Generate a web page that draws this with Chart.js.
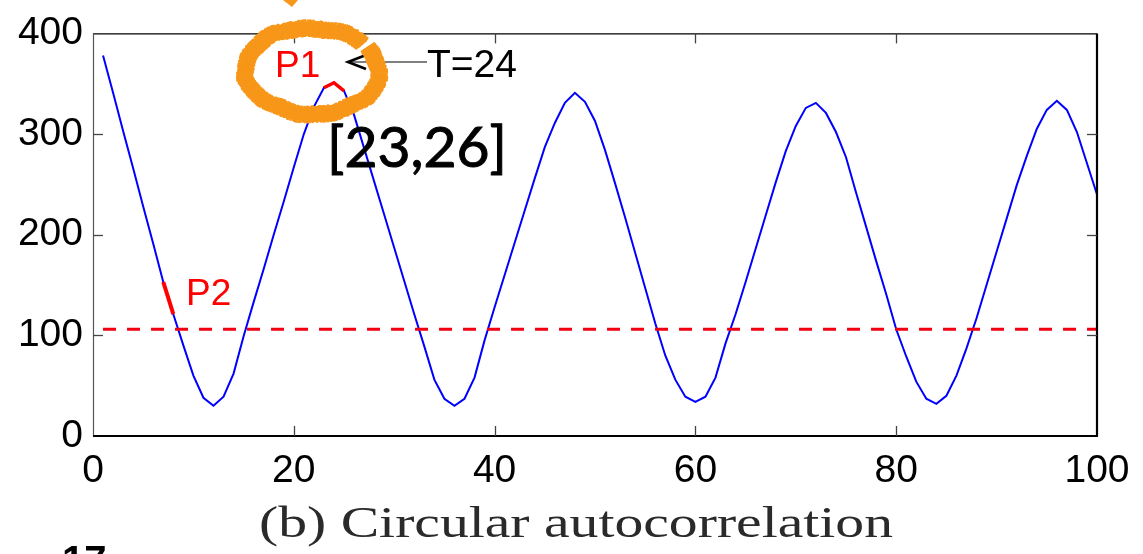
<!DOCTYPE html>
<html>
<head>
<meta charset="utf-8">
<script src="https://cdn.jsdelivr.net/npm/chart.js@4/dist/chart.umd.min.js"></script>
<style>
  body { margin: 0; background: #fff; }
  #wrap { width: 1143px; height: 554px; }
</style>
</head>
<body>
<div id="wrap"><canvas id="acf" width="1143" height="554"></canvas></div>
<script>
// lag (x) and circular autocorrelation value (y)
var lags = [1,2,3,4,5,6,7,8,9,10,11,12,13,14,15,16,17,18,19,20,
            21,22,23,24,25,26,27,28,29,30,31,32,33,34,35,36,37,38,39,40,
            41,42,43,44,45,46,47,48,49,50,51,52,53,54,55,56,57,58,59,60,
            61,62,63,64,65,66,67,68,69,70,71,72,73,74,75,76,77,78,79,80,
            81,82,83,84,85,86,87,88,89,90,91,92,93,94,95,96,97,98,99,100];
var acf = [378,341,303,266,228,191,153,121,90,60,38,30,39,62,99,133,166,200,233,267,
           300,327,346,351,343,319,286,253,220,187,154,121,89,56,37,30,37,58,95,128,
           160,192,224,256,287,311,331,341,332,313,284,251,217,182,147,112,80,56,39,34,
           39,58,92,121,153,186,219,252,283,308,326,331,321,302,277,242,208,174,141,106,
           79,54,37,32,40,60,87,117,150,183,216,249,278,305,324,333,324,302,271,240];

// highlighted stretches
var p1Lags = [23, 24, 25];
var p1Values = [346, 351, 343];
var p2Lags = [7, 8];
var p2Values = [153, 121];

// threshold line
var thresholdLags = [1, 100];
var thresholdValue = 106;

var xTicks = [0, 20, 40, 60, 80, 100];
var yTicks = [0, 100, 200, 300, 400];

var tickFont = 'Liberation Sans, Arial, Helvetica, sans-serif';

function pairs(xs, ys) {
  var out = [];
  for (var i = 0; i < xs.length; i++) out.push({x: xs[i], y: ys[i]});
  return out;
}

// rough marker-pen ellipse: a solid core plus a speckled fringe
function scribble(ctx, cx, cy, rx, ry, rot, gapFrom, gapTo) {
  var c = Math.cos(rot), s = Math.sin(rot);
  function pt(t, d) {
    var ex = (rx + d) * Math.cos(t), ey = (ry + d) * Math.sin(t);
    return [cx + ex * c - ey * s, cy + ex * s + ey * c];
  }
  ctx.fillStyle = '#f7981c';
  for (var t = 0; t < Math.PI * 2; t += 0.004) {
    if (t > gapFrom && t < gapTo) continue;
    var wob = 0.8 * Math.sin(t * 5) + 0.6 * Math.sin(t * 11 + 1);
    for (var d = -8; d <= 8; d += 1) {
      var h = Math.abs(Math.sin(t * 977 + d * 37.3) * 43758.5453) % 1;
      var keep = Math.abs(d) <= 5 ? 0.97 : (Math.abs(d) <= 7 ? 0.55 : 0.2);
      if (h > keep) continue;
      var p = pt(t, d + wob);
      ctx.fillRect(p[0] - 0.8, p[1] - 0.8, 1.6, 1.6);
    }
  }
}

var decor = {
  id: 'decor',
  afterDraw: function (chart) {
    var ctx = chart.ctx;
    var a = chart.chartArea;
    var xs = chart.scales.x, ys = chart.scales.y;
    ctx.save();

    // axes box
    ctx.lineCap = 'butt';
    ctx.strokeStyle = '#000';
    ctx.lineWidth = 1.2;
    ctx.beginPath(); ctx.moveTo(a.left, a.top + 0.5); ctx.lineTo(a.right, a.top + 0.5); ctx.stroke();
    ctx.strokeStyle = '#555';
    ctx.beginPath(); ctx.moveTo(a.left + 0.5, a.top); ctx.lineTo(a.left + 0.5, a.bottom); ctx.stroke();
    ctx.strokeStyle = '#000';
    ctx.lineWidth = 2.2;
    ctx.beginPath(); ctx.moveTo(a.left, a.bottom); ctx.lineTo(a.right + 1, a.bottom); ctx.stroke();
    ctx.beginPath(); ctx.moveTo(a.right, a.top); ctx.lineTo(a.right, a.bottom); ctx.stroke();

    // inward ticks
    ctx.strokeStyle = '#444';
    ctx.lineWidth = 1.3;
    xTicks.slice(1, -1).forEach(function (v) {
      var px = Math.round(xs.getPixelForValue(v)) + 0.5;
      ctx.beginPath(); ctx.moveTo(px, a.bottom); ctx.lineTo(px, a.bottom - 10); ctx.stroke();
      ctx.beginPath(); ctx.moveTo(px, a.top); ctx.lineTo(px, a.top + 10); ctx.stroke();
    });
    yTicks.slice(1, -1).forEach(function (v) {
      var py = Math.round(ys.getPixelForValue(v)) + 0.5;
      ctx.beginPath(); ctx.moveTo(a.left, py); ctx.lineTo(a.left + 10, py); ctx.stroke();
      ctx.beginPath(); ctx.moveTo(a.right, py); ctx.lineTo(a.right - 10, py); ctx.stroke();
    });

    // arrow pointing at the peak
    ctx.strokeStyle = '#000';
    ctx.lineWidth = 1.2;
    ctx.beginPath(); ctx.moveTo(349, 62); ctx.lineTo(427, 62); ctx.stroke();
    ctx.lineWidth = 2.6;
    ctx.lineJoin = 'miter';
    ctx.beginPath(); ctx.moveTo(366, 55); ctx.lineTo(348, 62); ctx.lineTo(366, 69); ctx.stroke();

    // hand drawn orange ellipse
    scribble(ctx, 312, 71, 67, 43, 0.03, 5.55, 5.66);
    ctx.fillStyle = '#f7981c';
    ctx.beginPath(); ctx.moveTo(283, 0); ctx.lineTo(298, 0); ctx.lineTo(292, 7); ctx.closePath(); ctx.fill();

    // labels
    ctx.textBaseline = 'alphabetic';
    ctx.textAlign = 'left';
    ctx.fillStyle = '#ff0000';
    ctx.font = '37px ' + tickFont;
    ctx.fillText('P1', 275, 77);
    ctx.fillText('P2', 186, 305);

    ctx.fillStyle = '#000';
    ctx.font = '39px ' + tickFont;
    ctx.fillText('T=24', 427, 77);

    ctx.font = '57px Lato, "Open Sans", sans-serif';
    ctx.lineWidth = 1;
    ctx.strokeStyle = '#000';
    ctx.fillText('[23,26]', 327, 167);
    ctx.strokeText('[23,26]', 327, 167);

    // caption
    var cap = '(b) Circular autocorrelation';
    ctx.font = '44px "Liberation Serif", "Times New Roman", serif';
    ctx.fillStyle = '#2a2a2a';
    var w = ctx.measureText(cap).width;
    ctx.save();
    ctx.translate(259, 537);
    ctx.scale(634 / w, 1);
    ctx.fillText(cap, 0, 0);
    ctx.restore();

    // start of the next figure's label, cut off by the frame
    ctx.fillStyle = '#000';
    ctx.font = 'bold 40px ' + tickFont;
    ctx.fillText('17', 62, 574);

    ctx.restore();
  }
};

new Chart(document.getElementById('acf').getContext('2d'), {
  type: 'line',
  data: {
    datasets: [
      {
        label: 'P1',
        data: pairs(p1Lags, p1Values),
        borderColor: '#ff0000',
        borderWidth: 3.5,
        pointRadius: 0,
        fill: false
      },
      {
        label: 'P2',
        data: pairs(p2Lags, p2Values),
        borderColor: '#ff0000',
        borderWidth: 4,
        pointRadius: 0,
        fill: false
      },
      {
        label: 'threshold',
        data: pairs(thresholdLags, [thresholdValue, thresholdValue]),
        borderColor: '#f00010',
        borderWidth: 3,
        borderDash: [13, 11],
        pointRadius: 0,
        fill: false
      },
      {
        label: 'autocorrelation',
        data: pairs(lags, acf),
        borderColor: '#0000ff',
        borderWidth: 2,
        pointRadius: 0,
        tension: 0,
        fill: false
      }
    ]
  },
  options: {
    responsive: false,
    animation: false,
    devicePixelRatio: 1,
    layout: { padding: { top: 29, right: 46, left: 0, bottom: 0 } },
    plugins: { legend: { display: false }, tooltip: { enabled: false }, title: { display: false } },
    scales: {
      x: {
        type: 'linear',
        min: 0,
        max: 100,
        afterFit: function (s) { s.height = 118; },
        afterBuildTicks: function (s) { s.ticks = xTicks.map(function (v) { return {value: v}; }); },
        grid: { display: false, drawTicks: false },
        border: { display: false },
        ticks: {
          padding: 12,
          maxRotation: 0,
          autoSkip: false,
          color: '#000',
          font: { family: tickFont, size: 39 }
        }
      },
      y: {
        min: 0,
        max: 400,
        afterFit: function (s) { s.width = 93; },
        afterBuildTicks: function (s) { s.ticks = yTicks.map(function (v) { return {value: v}; }); },
        grid: { display: false, drawTicks: false },
        border: { display: false },
        ticks: {
          padding: 10,
          color: '#000',
          font: { family: tickFont, size: 39 }
        }
      }
    }
  },
  plugins: [decor]
});
</script>
</body>
</html>
